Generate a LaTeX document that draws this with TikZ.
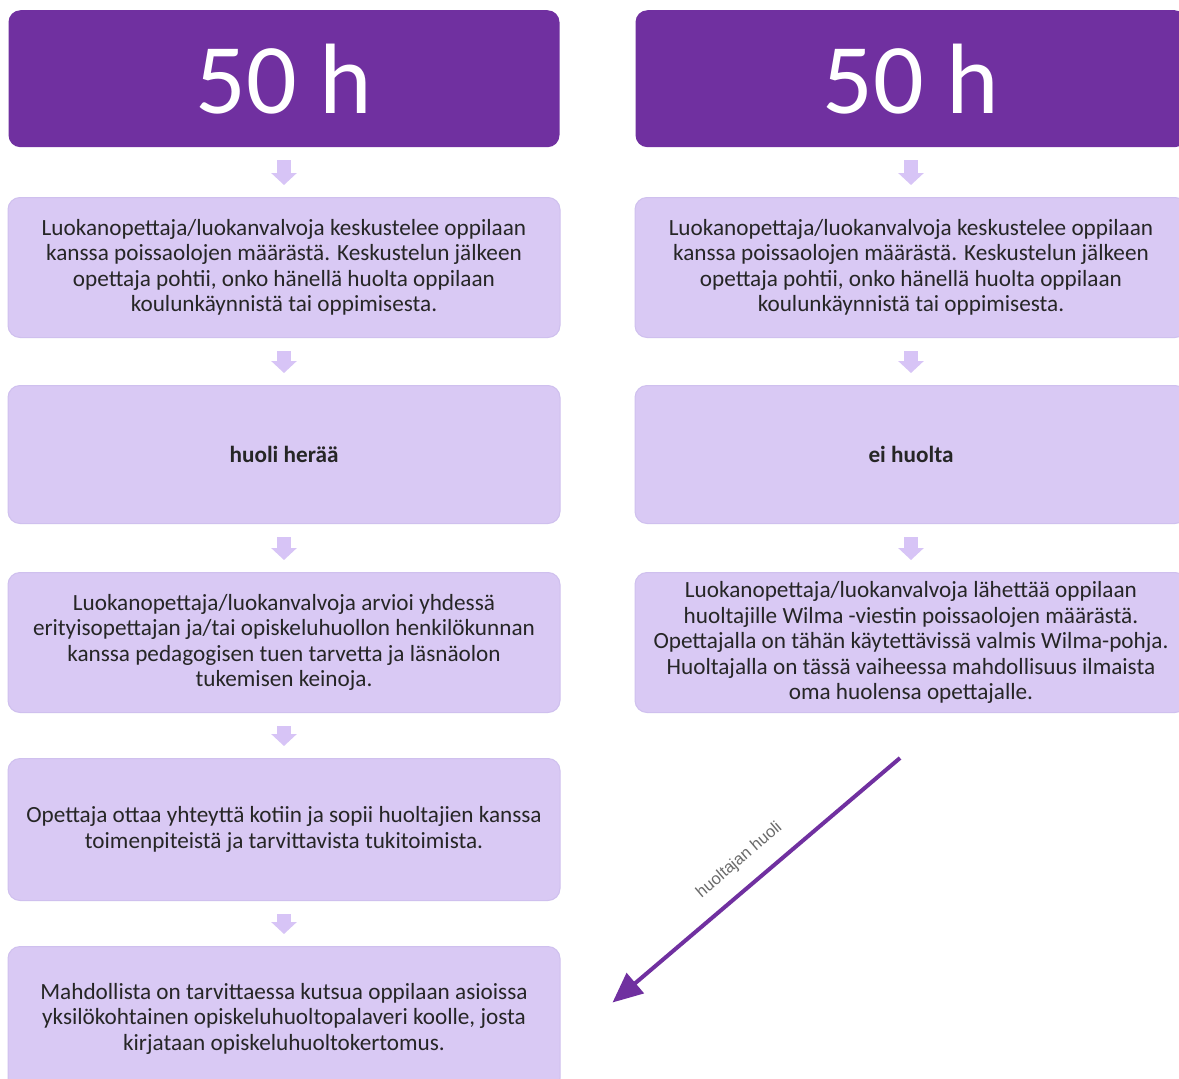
\documentclass[tikz,border=0pt]{standalone}
\usepackage{fontspec}
\setmainfont{Carlito}
\newfontfamily\headfont{Carlito}
\newfontfamily\lblfont{Liberation Sans}
\usetikzlibrary{arrows.meta,calc}
\definecolor{hdr}{HTML}{7030A0}
\definecolor{boxfill}{HTML}{D9C9F4}
\definecolor{boxline}{HTML}{CFC0EE}
\definecolor{smallarr}{HTML}{D7C4F6}
\definecolor{txt}{HTML}{262626}
\definecolor{lbl}{HTML}{6A6A6A}
\begin{document}
\begin{tikzpicture}[x=1pt,y=1pt]
\tikzset{
 header/.style={fill=hdr, rounded corners=12pt, minimum width=551pt, minimum height=137pt, anchor=north, inner sep=0pt, text=white, font=\headfont\fontsize{100}{100}\selectfont},
 stepbox/.style={fill=boxfill, draw=boxline, line width=1pt, rounded corners=12pt, minimum width=552pt, anchor=north, inner sep=0pt, align=center, text=txt, font=\fontsize{23.2}{25.5}\selectfont},
 flow/.style={draw=smallarr, line width=14pt, -{Triangle[width=25pt,length=12pt]}, shorten <=13pt, shorten >=12pt},
 diag/.style={draw=hdr, line width=4pt, -{Triangle[width=26pt,length=30pt]}},
}
\useasboundingbox (0,0) rectangle (1179,-1079);
\clip (0,0) rectangle (1179,-1079);
\fill[white] (0,0) rectangle (1179,-1079);

% left column
\node[header] (hL) at (284,-10) {50 h};
\node[stepbox, minimum height=140pt] (l1) at (284,-197) {Luokanopettaja/luokanvalvoja keskustelee oppilaan\\kanssa poissaolojen määrästä. Keskustelun jälkeen\\opettaja pohtii, onko hänellä huolta oppilaan\\koulunkäynnistä tai oppimisesta.};
\node[stepbox, minimum height=138pt] (l2) at (284,-385) {\textbf{huoli herää}};
\node[stepbox, minimum height=140pt] (l3) at (284,-572) {Luokanopettaja/luokanvalvoja arvioi yhdessä\\erityisopettajan ja/tai opiskeluhuollon henkilökunnan\\kanssa pedagogisen tuen tarvetta ja läsnäolon\\tukemisen keinoja.};
\node[stepbox, minimum height=142pt] (l4) at (284,-758) {Opettaja ottaa yhteyttä kotiin ja sopii huoltajien kanssa\\toimenpiteistä ja tarvittavista tukitoimista.};
\node[stepbox, minimum height=144pt] (l5) at (284,-946) {Mahdollista on tarvittaessa kutsua oppilaan asioissa\\yksilökohtainen opiskeluhuoltopalaveri koolle, josta\\kirjataan opiskeluhuoltokertomus.};

% right column
\node[header] (hR) at (911,-10) {50 h};
\node[stepbox, minimum height=140pt] (r1) at (911,-197) {Luokanopettaja/luokanvalvoja keskustelee oppilaan\\kanssa poissaolojen määrästä. Keskustelun jälkeen\\opettaja pohtii, onko hänellä huolta oppilaan\\koulunkäynnistä tai oppimisesta.};
\node[stepbox, minimum height=138pt] (r2) at (911,-385) {\textbf{ei huolta}};
\node[stepbox, minimum height=140pt] (r3) at (911,-572) {Luokanopettaja/luokanvalvoja lähettää oppilaan\\huoltajille Wilma -viestin poissaolojen määrästä.\\Opettajalla on tähän käytettävissä valmis Wilma-pohja.\\Huoltajalla on tässä vaiheessa mahdollisuus ilmaista\\oma huolensa opettajalle.};

% small flow arrows
\draw[flow] (hL.south) -- (l1.north);
\draw[flow] (l1.south) -- (l2.north);
\draw[flow] (l2.south) -- (l3.north);
\draw[flow] (l3.south) -- (l4.north);
\draw[flow] (l4.south) -- (l5.north);
\draw[flow] (hR.south) -- (r1.north);
\draw[flow] (r1.south) -- (r2.north);
\draw[flow] (r2.south) -- (r3.north);

% diagonal arrow
\coordinate (dstart) at ($(r3.south)+(-11,-45)$);
\coordinate (dend) at ($(l5.east)+(52,16)$);
\draw[diag] (dstart) -- node[sloped, above=13pt, pos=0.5, text=lbl, font=\lblfont\fontsize{16.5}{16.5}\selectfont] (dlbl) {huoltajan huoli} (dend);
\end{tikzpicture}
\end{document}
